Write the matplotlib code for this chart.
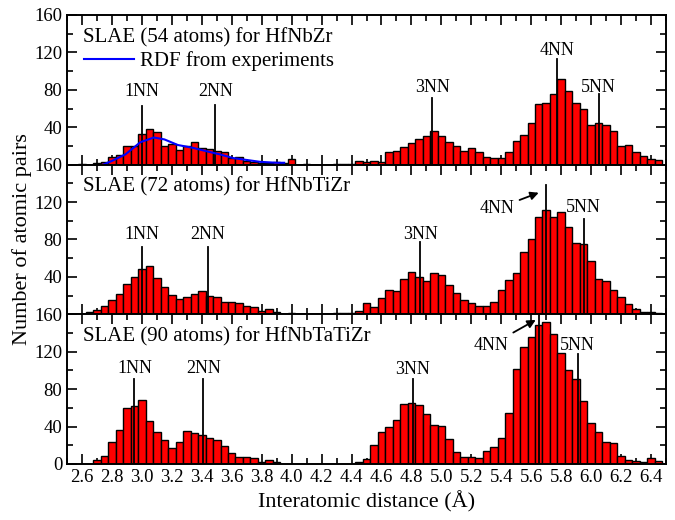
import numpy as np
import matplotlib
matplotlib.use("Agg")
import matplotlib.pyplot as plt
from matplotlib.ticker import MultipleLocator

plt.rcParams["font.family"] = ["Liberation Serif", "DejaVu Serif"]

# histogram bin centres (0.05 A bins)
bin_centers = np.round(np.arange(2.55, 6.451, 0.05), 2)

counts_hfnbzr = [
    0, 1, 0, 2, 3, 8, 10, 20, 20, 33, 38, 35, 20, 22, 16, 20, 24, 18, 17, 15,
    14, 7, 8, 4, 3, 2, 2, 3, 2, 6, 0, 1, 0, 0, 0, 1, 1, 1, 4, 3,
    4, 3, 13, 15, 19, 23, 27, 31, 36, 31, 24, 20, 15, 18, 13, 8, 7, 7, 14, 25,
    32, 45, 65, 66, 76, 92, 79, 66, 59, 42, 44, 42, 36, 20, 21, 14, 9, 6, 5,
]
counts_hfnbtizr = [
    0, 0, 2, 5, 9, 15, 22, 32, 40, 48, 52, 39, 29, 21, 16, 18, 22, 25, 20, 18,
    13, 13, 12, 9, 8, 4, 6, 2, 0, 1, 0, 0, 0, 0, 0, 1, 1, 1, 4, 12,
    8, 17, 26, 25, 38, 45, 40, 36, 44, 42, 31, 23, 15, 12, 9, 9, 13, 26, 37, 44,
    67, 81, 104, 112, 104, 109, 93, 76, 75, 57, 38, 36, 26, 19, 11, 6, 3, 2, 1,
]
counts_hfnbtatizr = [
    0, 0, 0, 4, 9, 23, 36, 60, 62, 68, 46, 34, 26, 17, 23, 35, 33, 31, 28, 26,
    19, 12, 8, 8, 6, 2, 4, 2, 0, 0, 0, 0, 0, 0, 0, 0, 0, 0, 2, 5,
    20, 34, 40, 47, 64, 65, 63, 53, 42, 41, 27, 13, 8, 8, 6, 14, 18, 28, 54, 102,
    125, 136, 149, 152, 139, 119, 100, 91, 67, 44, 34, 23, 22, 9, 4, 3, 2, 6, 3,
]

rdf_x = [2.74, 2.80, 2.89, 2.99, 3.08, 3.15, 3.24, 3.34, 3.44, 3.52, 3.61, 3.70, 3.79, 3.90, 3.95]
rdf_y = [0, 4, 11, 24, 29, 27, 21, 18, 14, 11, 7, 5, 3, 2, 2]

panel_titles = [
    "SLAE (54 atoms) for HfNbZr",
    "SLAE (72 atoms) for HfNbTiZr",
    "SLAE (90 atoms) for HfNbTaTiZr",
]

# neighbour shell markers: (label, x, line top, label y)
markers = [
    [("1NN", 3.00, 63, 78), ("2NN", 3.49, 64, 78), ("3NN", 4.94, 71, 82),
     ("4NN", 5.77, 113, 122), ("5NN", 6.05, 76, 82)],
    [("1NN", 3.00, 72, 85), ("2NN", 3.44, 72, 85), ("3NN", 4.86, 77, 85),
     ("5NN", 5.95, 102, 114)],
    [("1NN", 2.95, 91, 102), ("2NN", 3.41, 91, 102), ("3NN", 4.81, 91, 101),
     ("5NN", 5.91, 118, 127)],
]
# arrowed 4NN markers in panels 2 and 3: (panel, x, line top, text xy, arrow tip)
arrow_markers = [
    (1, 5.70, 138, (5.37, 113), (5.65, 130)),
    (2, 5.65, 160, (5.33, 127), (5.63, 154)),
]

all_counts = [counts_hfnbzr, counts_hfnbtizr, counts_hfnbtatizr]

fig = plt.figure(figsize=(6.75, 5.2), dpi=100)
gs = fig.add_gridspec(3, 1, left=0.0993, right=0.9867, bottom=0.1077, top=0.9712, hspace=0)
axes = [fig.add_subplot(gs[i]) for i in range(3)]

for i, (ax, counts) in enumerate(zip(axes, all_counts)):
    ax.bar(bin_centers, counts, width=0.05, color="#ff0000", edgecolor="black",
           linewidth=1.0, zorder=2)
    ax.set_xlim(2.5, 6.5)
    ax.set_ylim(0, 160)
    ax.xaxis.set_major_locator(MultipleLocator(0.2))
    ax.xaxis.set_minor_locator(MultipleLocator(0.1))
    ax.yaxis.set_major_locator(MultipleLocator(40))
    ax.yaxis.set_minor_locator(MultipleLocator(20))
    ax.tick_params(which="both", direction="in", top=True, right=True, width=1.2,
                   labelsize=13.5)
    ax.tick_params(which="major", length=7)
    ax.tick_params(which="minor", length=4)
    for sp in ax.spines.values():
        sp.set_linewidth(1.4)
        sp.set_zorder(5)
    ax.set_yticks([0, 40, 80, 120, 160])
    if i < 2:
        ax.set_yticklabels(["", "40", "80", "120", "160"])
        ax.tick_params(labelbottom=False)
    else:
        ax.set_xticks(np.round(np.arange(2.6, 6.41, 0.2), 1))
        ax.set_xticklabels([f"{v:.1f}" for v in np.arange(2.6, 6.41, 0.2)])
    ax.text(2.605, 136, panel_titles[i], fontsize=15, va="center", ha="left")

    for label, x, top, ly in markers[i]:
        ax.plot([x, x], [0, top], color="black", lw=1.3, zorder=3)
        ax.text(x, ly, label, fontsize=13, ha="center", va="center")

for idx, x, top, txy, tip in arrow_markers:
    ax = axes[idx]
    ax.plot([x, x], [0, top], color="black", lw=1.3, zorder=3)
    ax.annotate("4NN", xy=tip, xytext=txy, fontsize=13, ha="center", va="center",
                arrowprops=dict(arrowstyle="-|>", color="black", lw=1.3,
                                mutation_scale=12, shrinkA=2, shrinkB=0))

axes[0].plot(rdf_x, rdf_y, color="#0000ff", lw=1.5, zorder=4,
             label="RDF from experiments")
axes[0].legend(loc="center left", bbox_to_anchor=(-0.003, 0.69), frameon=False,
               fontsize=15, handlelength=2.4, handletextpad=0.3)

axes[2].set_xlabel("Interatomic distance (Å)", fontsize=16, labelpad=4)
fig.text(0.033, 0.54, "Number of atomic pairs", rotation=90, fontsize=16,
         ha="center", va="center")

fig.savefig("out.png", dpi=100)
